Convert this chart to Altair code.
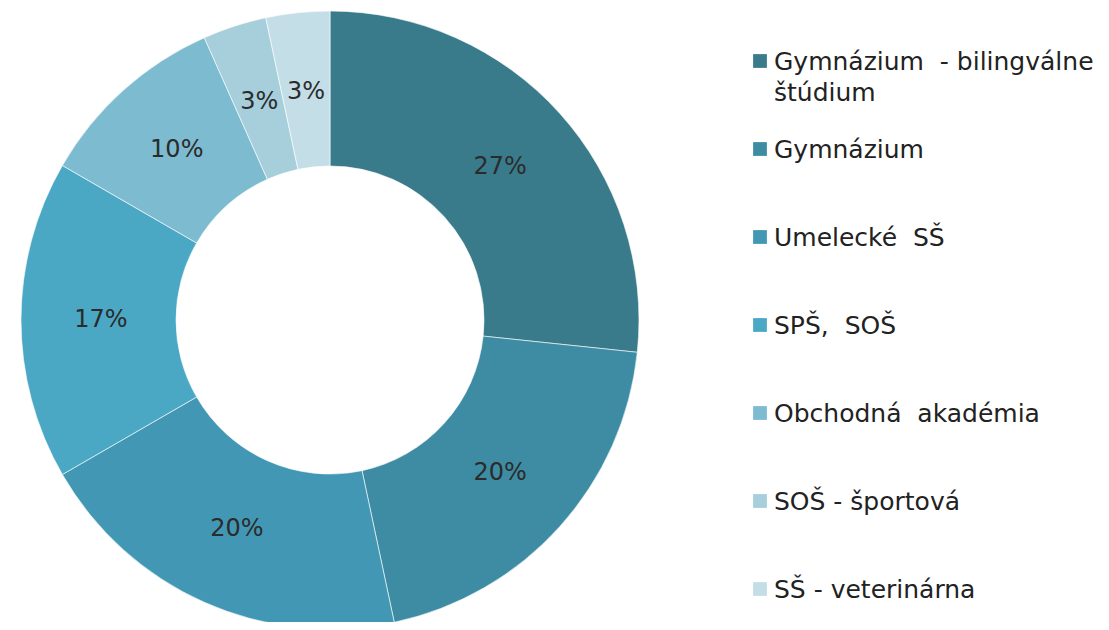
import altair as alt
import pandas as pd

categories = ["Gymnázium - bilingválne štúdium", "Gymnázium", "Umelecké SŠ", "SPŠ, SOŠ",
              "Obchodná akadémia", "SOŠ - športová", "SŠ - veterinárna"]
legend_labels = ["Gymnázium \u00a0- bilingválne\nštúdium", "Gymnázium", "Umelecké \u00a0SŠ", "SPŠ, \u00a0SOŠ",
                 "Obchodná \u00a0akadémia", "SOŠ - športová", "SŠ - veterinárna"]
counts = [8, 6, 6, 5, 3, 1, 1]
pct_labels = ["27%", "20%", "20%", "17%", "10%", "3%", "3%"]
colors = ["#3a7b8b", "#3d8ca4", "#4298b4", "#4aa8c5", "#7dbbd0", "#a6cedb", "#c4dee7"]

df = pd.DataFrame({
    "cat": categories,
    "legend": legend_labels,
    "count": counts,
    "pct": pct_labels,
    "idx": list(range(len(categories))),
})

color = alt.Color("cat:N", scale=alt.Scale(domain=categories, range=colors), legend=None)

CX, CY = 322, 312
FONT = "DejaVu Sans"

arcs = alt.Chart(df).mark_arc(outerRadius=309, innerRadius=154, stroke="#ffffff", strokeWidth=0.6).encode(
    theta=alt.Theta("count:Q", stack=True),
    order=alt.Order("idx:Q"),
    color=color,
    x=alt.value(CX), y=alt.value(CY),
)

labels = alt.Chart(df).mark_text(radius=229, fontSize=24, font=FONT, color="#2b2b2b").encode(
    theta=alt.Theta("count:Q", stack=True),
    order=alt.Order("idx:Q"),
    text="pct:N",
    x=alt.value(CX), y=alt.value(CY),
)

ypos = alt.Y("cat:N", sort=categories, axis=None,
             scale=alt.Scale(type="point", domain=categories, range=[53, 581], padding=0))

leg_sq = alt.Chart(df).mark_square(size=190, opacity=1).encode(
    x=alt.value(752),
    y=ypos,
    color=color,
)

leg_txt = alt.Chart(df).mark_text(align="left", baseline="alphabetic", dy=9, fontSize=25,
                                  font=FONT, color="#222222", lineBreak="\n",
                                  lineHeight=31).encode(
    x=alt.value(766),
    y=ypos,
    text="legend:N",
)

chart = alt.layer(arcs, labels, leg_sq, leg_txt).properties(
    width=1093, height=614,
    autosize=alt.AutoSizeParams(type="none"),
    padding=0,
).configure_view(stroke=None)

chart.save("out.html", embed_options={"renderer": "svg", "actions": False})
